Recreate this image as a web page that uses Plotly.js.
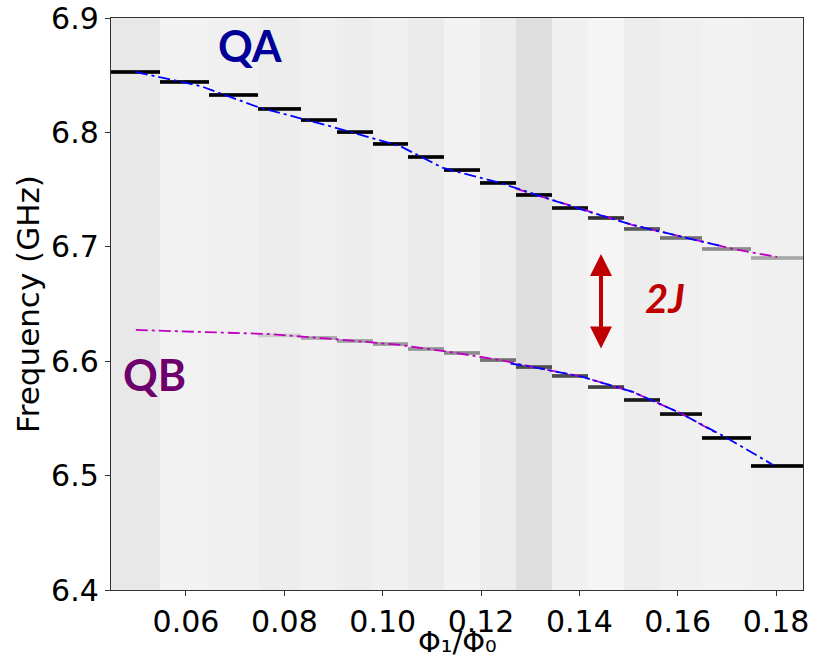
<!DOCTYPE html>
<html>
<head>
<meta charset="utf-8">
<script src="https://cdn.plot.ly/plotly-3.0.1.min.js"></script>
<style>html,body{margin:0;padding:0;background:#fff;}#chart{width:820px;height:662px;}</style>
</head>
<body>
<div id="chart"></div>
<script>
// Flux column edges (Phi1/Phi0)
const fluxEdges = [0.04475,0.05471,0.06468,0.07464,0.08339,0.09071,0.09803,0.10515,0.11247,0.11979,0.12711,0.13444,0.14176,0.14908,0.1564,0.16494,0.17491,0.18548];
// Background grey level per column (0 = black, 1 = white)
const columnLevel = [0.91,0.95,0.94,0.93,0.94,0.93,0.94,0.92,0.95,0.93,0.87,0.94,0.96,0.93,0.94,0.95,0.94];
// Measured resonance of upper branch (GHz) and its darkness level
const upperFreq = [6.8528,6.8441,6.8327,6.8205,6.8108,6.8003,6.7899,6.7785,6.7671,6.7558,6.7453,6.7339,6.7252,6.7156,6.7077,6.6981,6.6902];
const upperLevel = [0,0,0,0,0,0,0,0,0,0,0,0.05,0.2,0.35,0.45,0.55,0.65];
// Measured resonance of lower branch (GHz) and its darkness level
const lowerFreq = [null,null,null,6.6225,6.6203,6.6177,6.6150,6.6107,6.6072,6.6010,6.5949,6.5871,6.5774,6.5661,6.5538,6.5329,6.5084];
const lowerLevel = [1,1,1,0.8,0.65,0.62,0.6,0.58,0.55,0.45,0.3,0.3,0.25,0.1,0.05,0,0];

// Fit curves
const blueUpperX = [0.0498,0.0629,0.0746,0.0899,0.1035,0.1123,0.1239,0.1306,0.1407,0.1509,0.1611,0.1690];
const blueUpperY = [6.8528,6.8406,6.8222,6.8047,6.7881,6.7689,6.7558,6.7462,6.7322,6.7190,6.7086,6.7004];
const magUpperX = [0.1270,0.1306,0.1407,0.1509,0.1611,0.1713,0.1802];
const magUpperY = [6.7510,6.7462,6.7322,6.7190,6.7086,6.6981,6.6911];
const magLowerX = [0.0498,0.0629,0.0765,0.0899,0.1035,0.1137,0.1239,0.1306,0.1407,0.1509,0.1605,0.1680];
const magLowerY = [6.6273,6.6255,6.6238,6.6194,6.6142,6.6080,6.6010,6.5949,6.5862,6.5731,6.5547,6.5370];
const blueLowerX = [0.1260,0.1306,0.1407,0.1509,0.1605,0.1700,0.1794];
const blueLowerY = [6.5980,6.5949,6.5862,6.5731,6.5547,6.5329,6.5093];

const xTicks = [0.06,0.08,0.10,0.12,0.14,0.16,0.18];
const yTicks = [6.4,6.5,6.6,6.7,6.8,6.9];

// Build heatmap grid: one row per screen pixel of the 6.4–6.9 GHz span
const nRows = 572;
const dy = 0.5 / nRows;
const band = 0.0032;
const yEdges = [];
for (let i = 0; i <= nRows; i++) yEdges.push(6.4 + i*dy);
const z = [];
for (let r = 0; r < nRows; r++) {
  const y0 = 6.4 + r*dy, y1 = y0 + dy;
  const row = [];
  for (let c = 0; c < columnLevel.length; c++) {
    let v = columnLevel[c];
    [[upperFreq[c], upperLevel[c]], [lowerFreq[c], lowerLevel[c]]].forEach(([f, lv]) => {
      if (f === null) return;
      const b0 = f - band/2, b1 = f + band/2;
      const ov = Math.max(0, Math.min(y1, b1) - Math.max(y0, b0));
      const w = ov/dy;
      const nv = v + (lv - v)*w;
      if (nv < v) v = nv;
    });
    row.push(v);
  }
  z.push(row);
}

const dd = '12px,4px,3px,4px';
const traces = [
  {type:'heatmap', x: fluxEdges, y: yEdges, z: z, zmin:0, zmax:1, zsmooth:false,
   colorscale:[[0,'#000000'],[1,'#ffffff']], showscale:false, hoverinfo:'skip'},
  {type:'scatter', mode:'lines', x: magLowerX, y: magLowerY, line:{color:'#bf00bf', width:1.8, dash:dd}},
  {type:'scatter', mode:'lines', x: magUpperX, y: magUpperY, line:{color:'#bf00bf', width:1.8, dash:dd}},
  {type:'scatter', mode:'lines', x: blueUpperX, y: blueUpperY, line:{color:'#0000ff', width:1.8, dash:dd}},
  {type:'scatter', mode:'lines', x: blueLowerX, y: blueLowerY, line:{color:'#0000ff', width:1.8, dash:dd}}
];

const tickFont = {family:'DejaVu Sans, sans-serif', size:30, color:'#000'};
const layout = {
  width:820, height:662,
  margin:{l:111, r:17, t:18, b:72},
  paper_bgcolor:'#fff', plot_bgcolor:'#fff',
  showlegend:false,
  xaxis:{range:[0.04475,0.18548], tickvals:xTicks, ticktext:xTicks.map(v=>v.toFixed(2)),
    ticks:'outside', ticklen:5, tickcolor:'#333', tickfont:tickFont,
    showline:true, linecolor:'#333', linewidth:1.2, mirror:true, showgrid:false, zeroline:false},
  yaxis:{range:[6.4,6.9], tickvals:yTicks, ticktext:yTicks.map(v=>v.toFixed(1)),
    ticks:'outside', ticklen:5, tickcolor:'#333', tickfont:tickFont,
    showline:true, linecolor:'#333', linewidth:1.2, mirror:true, showgrid:false, zeroline:false,
    title:{text:'Frequency (GHz)', font:{family:'DejaVu Sans, sans-serif', size:31, color:'#000'}, standoff:2}},
  annotations:[
    {x:0.5, y:-0.1241, xref:'paper', yref:'paper', xanchor:'center', yanchor:'bottom',
     text:'Φ₁/Φ₀', showarrow:false,
     font:{family:'DejaVu Sans, sans-serif', size:29, color:'#000'}},
    {x:0.0732, y:6.8764, xref:'x', yref:'y', text:'<b>QA</b>', showarrow:false,
     font:{family:'Lato, sans-serif', size:43, color:'#000099'}},
    {x:0.0535, y:6.588, xref:'x', yref:'y', text:'<b>QB</b>', showarrow:false,
     font:{family:'Lato, sans-serif', size:43, color:'#6e006e'}},
    {x:0.1575, y:6.6555, xref:'x', yref:'y', text:'<b><i>2J</i></b>', showarrow:false,
     font:{family:'Lato, sans-serif', size:40, color:'#c00000'}},
    {x:0.1444, y:6.6937, xref:'x', yref:'y', ax:0.1444, ay:6.6098, axref:'x', ayref:'y',
     text:'', showarrow:true, arrowhead:2, arrowside:'end+start', arrowsize:1.1, arrowwidth:4, arrowcolor:'#c00000',
     standoff:0, startstandoff:0}
  ]
};

Plotly.newPlot('chart', traces, layout, {displayModeBar:false, staticPlot:true});
</script>
</body>
</html>
